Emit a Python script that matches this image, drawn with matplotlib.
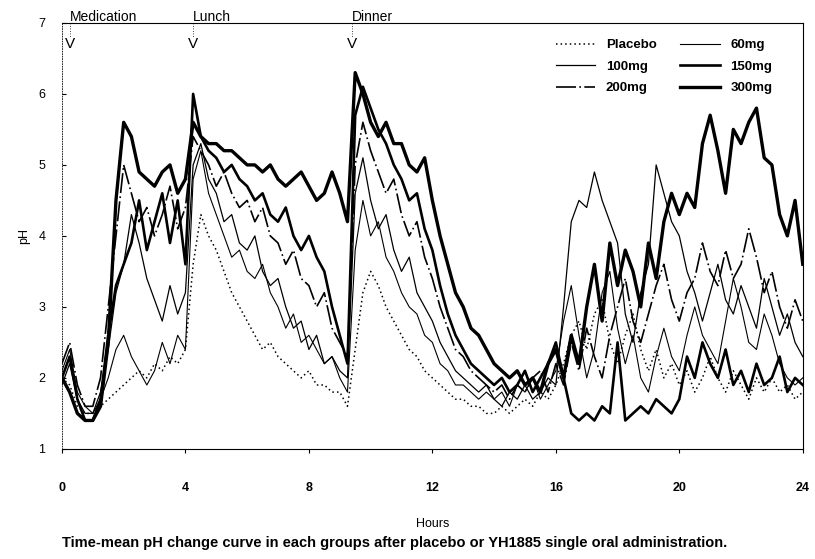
import numpy as np
import matplotlib.pyplot as plt

plt.rcParams.update({
    "font.family": ["Liberation Sans", "DejaVu Sans"],
    "font.size": 9,
    "axes.linewidth": 0.8,
})

# time grid (hours), one reading every 15 min
HOURS = np.arange(0, 24.25, 0.25)

PLACEBO = [2.0, 1.9, 1.6, 1.5, 1.5, 1.6, 1.7, 1.8, 1.9, 2.0, 2.1, 2.0,
           2.2, 2.1, 2.3, 2.2, 2.4, 3.6, 4.3, 4.0, 3.8, 3.5, 3.2, 3.0,
           2.8, 2.6, 2.4, 2.5, 2.3, 2.2, 2.1, 2.0, 2.1, 1.9, 1.9, 1.8,
           1.8, 1.6, 2.4, 3.2, 3.5, 3.3, 3.0, 2.8, 2.6, 2.4, 2.3, 2.1,
           2.0, 1.9, 1.8, 1.7, 1.7, 1.6, 1.6, 1.5, 1.5, 1.6, 1.5, 1.6,
           1.7, 1.6, 1.8, 1.7, 1.9, 2.2, 2.6, 2.8, 2.4, 2.9, 3.1, 2.5,
           2.2, 2.6, 2.9, 2.4, 2.1, 2.4, 2.0, 2.2, 1.9, 2.1, 1.8, 2.0,
           2.3, 2.0, 1.8, 2.1, 1.9, 1.7, 2.0, 1.8, 2.0, 1.8, 1.9, 1.7, 1.8]

MG60 = [2.1, 2.4, 1.8, 1.6, 1.5, 1.7, 2.0, 2.4, 2.6, 2.3, 2.1, 1.9,
        2.1, 2.5, 2.2, 2.6, 2.4, 4.8, 5.2, 4.6, 4.3, 4.0, 3.7, 3.8,
        3.5, 3.4, 3.6, 3.2, 3.0, 2.7, 2.9, 2.5, 2.6, 2.4, 2.2, 2.3,
        2.0, 1.8, 3.8, 4.5, 4.0, 4.2, 3.7, 3.5, 3.2, 3.0, 2.9, 2.6,
        2.5, 2.2, 2.1, 1.9, 1.9, 1.8, 1.7, 1.8, 1.7, 1.8, 1.6, 1.9,
        1.8, 2.0, 1.7, 1.9, 2.1, 2.8, 3.3, 2.6, 2.0, 2.4, 3.2, 3.5,
        2.7, 2.2, 2.6, 2.0, 1.8, 2.3, 2.7, 2.3, 2.1, 2.6, 3.0, 2.6,
        2.4, 2.2, 2.8, 3.4, 3.0, 2.5, 2.4, 2.9, 2.6, 2.2, 2.0, 1.9, 2.0]

MG100 = [1.9, 2.2, 1.7, 1.5, 1.5, 1.8, 2.4, 3.2, 3.6, 4.3, 3.9, 3.4,
         3.1, 2.8, 3.3, 2.9, 3.2, 5.0, 5.3, 4.8, 4.6, 4.2, 4.3, 3.9,
         3.8, 4.0, 3.5, 3.3, 3.4, 3.0, 2.7, 2.8, 2.4, 2.6, 2.2, 2.3,
         2.1, 2.0, 4.6, 5.1, 4.5, 4.1, 4.3, 3.8, 3.5, 3.7, 3.2, 3.0,
         2.8, 2.5, 2.3, 2.1, 2.0, 1.9, 1.8, 1.9, 1.7, 1.6, 1.8, 1.7,
         1.9, 1.7, 1.8, 2.0, 1.9, 3.0, 4.2, 4.5, 4.4, 4.9, 4.5, 4.2,
         3.9, 2.9, 2.5, 3.2, 3.6, 5.0, 4.6, 4.2, 4.0, 3.5, 3.2, 2.8,
         3.2, 3.6, 3.1, 2.9, 3.3, 3.0, 2.7, 3.4, 3.0, 2.6, 2.9, 2.5, 2.3]

MG200 = [2.2, 2.5, 1.9, 1.6, 1.6, 2.0, 3.0, 4.0, 5.0, 4.6, 4.2, 4.4,
         4.0, 4.3, 4.7, 4.1, 4.4, 5.4, 5.2, 5.0, 4.7, 4.9, 4.6, 4.4,
         4.5, 4.2, 4.4, 4.0, 3.9, 3.6, 3.8, 3.4, 3.3, 3.0, 3.2, 2.7,
         2.5, 2.3, 5.0, 5.6, 5.2, 4.9, 4.6, 4.8, 4.3, 4.0, 4.2, 3.7,
         3.4, 3.0, 2.7, 2.4, 2.3, 2.1, 2.0, 1.9, 1.8, 1.9, 1.7, 1.9,
         1.8, 2.0, 2.1, 1.8, 2.2, 1.9, 2.5, 2.1, 2.7, 2.3, 2.0, 2.6,
         3.0, 3.4, 2.8, 2.5, 2.9, 3.3, 3.6, 3.1, 2.8, 3.2, 3.4, 3.9,
         3.5, 3.3, 3.8, 3.4, 3.6, 4.1, 3.7, 3.2, 3.5, 3.0, 2.7, 3.1, 2.8]

MG150 = [2.0, 2.3, 1.7, 1.4, 1.4, 1.7, 2.6, 3.3, 3.6, 3.9, 4.5, 3.8,
         4.2, 4.6, 3.9, 4.5, 3.6, 6.0, 5.4, 5.2, 5.1, 4.9, 5.0, 4.8,
         4.7, 4.5, 4.6, 4.3, 4.2, 4.4, 4.0, 3.8, 4.0, 3.7, 3.5, 3.0,
         2.6, 2.2, 5.7, 6.1, 5.8, 5.5, 5.3, 5.0, 4.8, 4.5, 4.6, 4.1,
         3.8, 3.3, 2.9, 2.6, 2.4, 2.2, 2.1, 2.0, 1.9, 2.0, 1.8, 1.9,
         2.1, 1.8, 2.0, 2.2, 2.5, 2.0, 1.5, 1.4, 1.5, 1.4, 1.6, 1.5,
         2.5, 1.4, 1.5, 1.6, 1.5, 1.7, 1.6, 1.5, 1.7, 2.3, 2.0, 2.5,
         2.2, 2.0, 2.4, 1.9, 2.1, 1.8, 2.2, 1.9, 2.0, 2.3, 1.8, 2.0, 1.9]

MG300 = [2.0, 1.8, 1.5, 1.4, 1.4, 1.6, 2.5, 4.5, 5.6, 5.4, 4.9, 4.8,
         4.7, 4.9, 5.0, 4.6, 4.8, 5.6, 5.4, 5.3, 5.3, 5.2, 5.2, 5.1,
         5.0, 5.0, 4.9, 5.0, 4.8, 4.7, 4.8, 4.9, 4.7, 4.5, 4.6, 4.9,
         4.6, 4.2, 6.3, 6.0, 5.6, 5.4, 5.6, 5.3, 5.3, 5.0, 4.9, 5.1,
         4.5, 4.0, 3.6, 3.2, 3.0, 2.7, 2.6, 2.4, 2.2, 2.1, 2.0, 2.1,
         1.9, 2.0, 1.8, 2.2, 2.4, 2.0, 2.6, 2.2, 3.0, 3.6, 2.8, 3.9,
         3.3, 3.8, 3.5, 3.0, 3.9, 3.4, 4.2, 4.6, 4.3, 4.6, 4.4, 5.3,
         5.7, 5.2, 4.6, 5.5, 5.3, 5.6, 5.8, 5.1, 5.0, 4.3, 4.0, 4.5, 3.6]

SERIES = [
    ("Placebo", PLACEBO, dict(ls=(0, (1, 2)), lw=1.1)),
    ("100mg", MG100, dict(ls="-", lw=0.9)),
    ("200mg", MG200, dict(ls=(0, (12, 2, 1, 2)), lw=1.2)),
    ("60mg", MG60, dict(ls="-", lw=0.8)),
    ("150mg", MG150, dict(ls="-", lw=1.9)),
    ("300mg", MG300, dict(ls="-", lw=2.4)),
]

EVENTS = [("Medication", 0.26), ("Lunch", 4.24), ("Dinner", 9.39)]

fig = plt.figure(figsize=(8.15, 5.59), dpi=100)
ax = fig.add_axes([0.076, 0.197, 0.909, 0.762])

handles = []
for name, vals, st in SERIES:
    h, = ax.plot(HOURS, vals, color="black", label=name, **st)
    handles.append(h)

ax.set_xlim(0, 24)
ax.set_ylim(1, 7)
ax.set_xticks(range(0, 25, 4))
ax.set_yticks(range(1, 8))
ax.tick_params(axis="x", direction="out", length=3, pad=21, labelsize=9)
ax.tick_params(axis="y", direction="in", length=3, pad=12, labelsize=9)
for lab in ax.get_xticklabels():
    lab.set_fontweight("bold")
ax.spines["left"].set_linestyle((0, (1, 2)))
ax.spines["left"].set_linewidth(0.6)

ax.set_xlabel("Hours", labelpad=17, fontsize=9)
ax.set_ylabel("pH", labelpad=6, fontsize=9)

# meal / dosing markers along the top
for text, hr in EVENTS:
    ax.text(hr, 6.99, text, ha="left", va="bottom", fontsize=10, clip_on=False)
    ax.plot([hr, hr], [7.0, 6.8], color="black", lw=0.6, ls=(0, (1, 2)))
    ax.text(hr, 6.80, "V", ha="center", va="top", fontsize=11)

ax.legend(handles=handles, ncol=2, frameon=False, loc="upper right",
          bbox_to_anchor=(0.975, 0.99), handlelength=3.0, labelspacing=0.7,
          columnspacing=1.8, prop={"weight": "bold", "size": 9.5})

fig.text(0.076, 0.028,
         "Time-mean pH change curve in each groups after placebo or YH1885 single oral administration.",
         fontsize=10.5, fontweight="bold", ha="left", va="center")

fig.savefig("out.png", dpi=100)
